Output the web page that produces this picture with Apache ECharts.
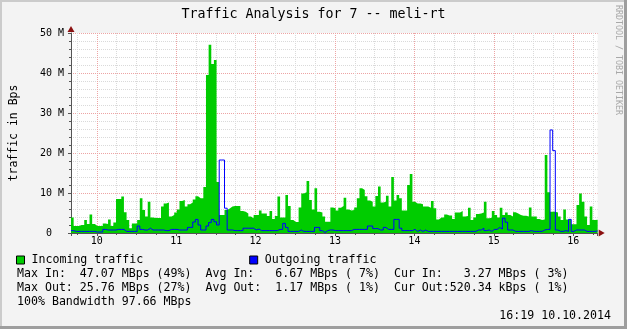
<!DOCTYPE html>
<html><head><meta charset="utf-8">
<script src="https://cdn.jsdelivr.net/npm/echarts@6/dist/echarts.min.js"></script>
<style>
html,body{margin:0;padding:0;background:#f3f3f3;}
#c{width:627px;height:329px;background:#f3f3f3;box-shadow: inset -3px -3px 0 #9e9e9e, inset 2px 2px 0 #cbcbcb;}
</style></head><body><div id="c"></div>
<script>
// time of first sample (hours) and sample step (minutes)
const sampleStartHour = 9.675;
const sampleStepMinutes = 2;
// values in MBps
const incomingMBps = [3.9,1.75,1.75,2.0,2.0,3.25,2.25,4.6,2.25,1.75,
 1.75,1.75,2.4,2.25,3.4,1.75,2.6,8.5,8.5,9.1,
 5.2,3.25,1.2,2.4,2.4,3.25,8.7,5.75,4.1,7.8,
 3.9,3.75,3.75,3.75,6.6,7.4,7.6,4.1,4.5,5.1,
 5.9,8.0,8.25,6.6,7.2,7.6,8.4,9.2,8.7,8.7,
 11.5,39.5,47.07,42.25,43.25,12.75,4.5,4.5,5.75,6.1,
 6.6,6.75,6.75,6.75,5.5,5.3,4.9,4.1,3.7,4.5,
 4.5,5.6,4.9,4.9,4.25,5.5,3.5,4.25,9.1,3.9,
 3.9,9.5,6.75,3.25,2.75,2.75,6.4,9.9,10.2,13.0,
 8.25,5.9,11.2,5.3,5.1,4.1,2.8,2.8,6.4,6.2,
 5.6,6.3,6.75,8.8,5.9,5.6,5.75,6.4,8.7,11.2,
 10.75,9.2,8.1,7.8,6.6,9.25,11.6,7.6,7.8,9.3,
 6.6,14.0,8.1,9.5,8.7,5.6,5.6,12.0,14.75,7.8,
 7.4,7.4,7.2,6.6,6.6,6.3,8.0,6.2,3.4,3.9,
 3.9,4.6,4.4,4.4,3.5,5.1,5.1,5.5,4.1,4.25,
 6.3,3.25,3.9,4.75,4.9,5.1,7.8,3.7,3.8,5.5,
 4.5,3.9,6.3,4.5,5.1,4.5,4.1,5.2,4.9,4.5,
 4.3,4.3,4.1,6.4,4.1,4.1,3.5,3.25,3.4,19.5,
 10.2,5.3,5.3,5.1,4.1,3.25,5.9,3.4,3.4,2.2,
 2.2,7.0,9.9,7.8,4.1,2.0,6.6,3.25,3.3];
const outgoingMBps = [0.6,0.4,0.4,0.4,0.4,0.4,0.4,0.4,0.4,0.25,
 0.25,0.25,0.9,0.75,0.75,0.75,0.75,0.9,0.9,0.9,
 0.4,0.4,0.4,0.4,0.4,1.75,0.9,0.75,0.75,1.2,
 0.75,0.75,0.75,0.75,0.75,0.6,0.6,0.9,0.9,0.9,
 0.75,0.75,0.75,0.75,1.4,1.4,2.75,3.4,2.0,0.75,
 0.75,1.75,2.6,3.4,2.8,2.0,18.25,18.25,6.2,0.75,
 0.75,0.6,0.6,0.6,0.6,1.2,1.2,1.2,1.2,0.75,
 1.0,0.6,0.6,0.6,0.6,0.6,0.6,0.6,0.9,0.9,
 2.4,1.4,0.4,0.4,0.4,0.4,0.75,0.4,0.4,0.4,
 0.4,0.4,1.4,1.4,0.6,0.1,0.6,0.75,0.75,0.6,
 0.6,0.6,0.6,0.6,0.6,0.6,0.9,0.9,0.9,0.9,
 0.9,0.9,1.75,1.75,1.1,1.1,0.75,0.75,1.4,0.9,
 0.9,0.9,3.4,3.4,1.2,0.6,0.6,0.6,0.6,0.9,
 0.4,0.75,0.4,0.75,0.4,0.4,0.4,0.4,0.4,0.4,
 0.4,0.4,0.4,0.4,0.4,0.4,0.4,0.4,0.4,0.4,
 0.4,0.4,0.4,0.75,0.75,1.2,0.6,0.75,0.4,0.9,
 0.9,1.4,1.0,3.7,2.7,0.75,0.75,0.4,0.4,0.4,
 0.4,0.4,0.4,0.6,0.4,0.4,0.4,0.4,0.75,0.9,
 0.9,25.76,20.6,0.75,0.4,0.4,0.6,0.4,3.4,0.4,
 0.75,0.75,0.75,0.75,0.4,0.4,0.4,0.4,0.52];
const seriesNames = ['Incoming traffic', 'Outgoing traffic'];
const seriesColors = ['#00cc00', '#0000ff'];
const titleText = 'Traffic Analysis for 7 -- meli-rt';
const yAxisTitle = 'traffic in Bps';
const statLines = [
  'Max In:  47.07 MBps (49%)  Avg In:   6.67 MBps ( 7%)  Cur In:   3.27 MBps ( 3%)',
  'Max Out: 25.76 MBps (27%)  Avg Out:  1.17 MBps ( 1%)  Cur Out:520.34 kBps ( 1%)',
  '100% Bandwidth 97.66 MBps'
];
const timestampText = '16:19 10.10.2014';
const watermarkText = 'RRDTOOL / TOBI OETIKER';

const MONO = 'DejaVu Sans Mono';
const step = sampleStepMinutes / 60;
const N = incomingMBps.length;
const xMax = sampleStartHour + N * step;
function toPts(vals) {
  const pts = vals.map((v, i) => [sampleStartHour + i * step, v]);
  pts.push([sampleStartHour + vals.length * step, vals[vals.length - 1]]);
  return pts;
}
const RED = '#eda4a4', GREY = '#dadada', AX = '#555555', ARROW = '#8b1010';

const chart = echarts.init(document.getElementById('c'), null, {renderer: 'canvas'});
const xLabel = v => Math.abs(v - Math.round(v)) < 1e-6 ? String(Math.round(v)) : '';
chart.setOption({
  backgroundColor: 'transparent',
  animation: false,
  title: {
    text: titleText, left: 'center', top: 3,
    textStyle: {fontFamily: MONO, fontSize: 13.3, fontWeight: 'normal', color: '#000'}
  },
  legend: {
    data: seriesNames, left: 11, top: 249, icon: 'rect', itemWidth: 8, itemHeight: 8,
    itemGap: 106, selectedMode: false,
    itemStyle: {borderColor: '#000', borderWidth: 1},
    textStyle: {fontFamily: MONO, fontSize: 11.6, color: '#000', padding: [0, 0, 0, 2]}
  },
  grid: {left: 67, top: 33, width: 530.67, height: 200, show: true, backgroundColor: '#ffffff', borderWidth: 0, containLabel: false},
  xAxis: [{
    type: 'value', min: sampleStartHour, max: xMax, splitNumber: 6,
    axisLine: {show: true, onZero: false, lineStyle: {color: AX}},
    axisTick: {show: true, length: 3, lineStyle: {color: AX}},
    minorTick: {show: true, splitNumber: 4, length: 2, lineStyle: {color: AX}},
    axisLabel: {formatter: xLabel, fontFamily: MONO, fontSize: 10, color: '#000', margin: 3},
    splitLine: {show: true, showMinLine: false, showMaxLine: false, lineStyle: {color: RED, type: [1, 1]}},
    minorSplitLine: {show: true, lineStyle: {color: GREY, type: [1, 1]}}
  }, {
    type: 'value', min: sampleStartHour, max: xMax, position: 'bottom',
    axisLine: {show: true, onZero: false, symbol: ['none', 'triangle'], symbolSize: [7, 6], symbolOffset: [0, 4], lineStyle: {color: ARROW, opacity: 0}},
    axisTick: {show: false}, axisLabel: {show: false}, splitLine: {show: false}
  }],
  yAxis: [{
    type: 'value', min: 0, max: 50, interval: 10, position: 'left',
    name: yAxisTitle, nameLocation: 'middle', nameGap: 51,
    nameTextStyle: {fontFamily: MONO, fontSize: 11.5, color: '#000'},
    axisLine: {show: true, lineStyle: {color: AX}},
    axisTick: {show: true, length: 3, lineStyle: {color: AX}},
    minorTick: {show: true, splitNumber: 5, length: 2, lineStyle: {color: AX}},
    axisLabel: {formatter: v => v === 0 ? '0  ' : v + ' M', fontFamily: MONO, fontSize: 10, color: '#000', margin: 7},
    splitLine: {show: true, showMinLine: false, lineStyle: {color: RED, type: [1, 1]}},
    minorSplitLine: {show: true, lineStyle: {color: GREY, type: [1, 1]}}
  }, {
    type: 'value', min: 0, max: 50, position: 'left',
    axisLine: {show: true, symbol: ['none', 'triangle'], symbolSize: [7, 6], symbolOffset: [0, 4], lineStyle: {color: ARROW, opacity: 0}},
    axisTick: {show: false}, axisLabel: {show: false}, splitLine: {show: false}
  }],
  series: [{
    name: seriesNames[0], type: 'line', step: 'end', symbol: 'none',
    data: toPts(incomingMBps),
    itemStyle: {color: seriesColors[0]},
    lineStyle: {width: 0, color: seriesColors[0]},
    areaStyle: {color: seriesColors[0], opacity: 1},
    z: 2
  }, {
    name: seriesNames[1], type: 'line', step: 'end', symbol: 'none',
    data: toPts(outgoingMBps),
    itemStyle: {color: seriesColors[1]},
    lineStyle: {width: 1, color: seriesColors[1]},
    z: 3
  }],
  graphic: [
    ...statLines.map((t, i) => ({
      type: 'text', x: 17, y: 273.5 + i * 14,
      style: {text: t, font: '11.6px "' + MONO + '"', fill: '#000', textAlign: 'left', textVerticalAlign: 'middle'}
    })),
    {type: 'text', x: 611, y: 315.5,
      style: {text: timestampText, font: '11.6px "' + MONO + '"', fill: '#000', textAlign: 'right', textVerticalAlign: 'middle'}},
    {type: 'text', x: 618.5, y: 5, rotation: -Math.PI / 2,
      style: {text: watermarkText, font: '8.3px "' + MONO + '"', fill: '#a8a8a8', textAlign: 'left', textVerticalAlign: 'middle'}}
  ]
});
</script></body></html>
